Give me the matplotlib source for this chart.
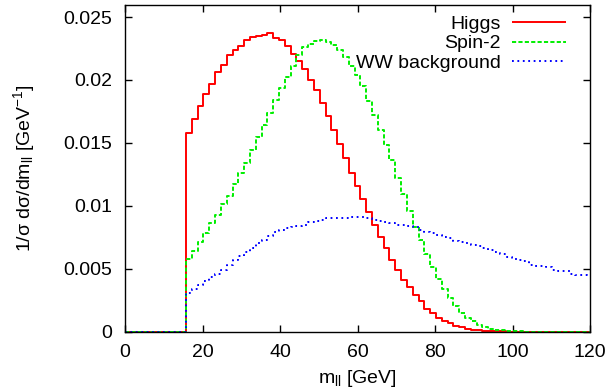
import numpy as np
import matplotlib
matplotlib.use("Agg")
import matplotlib.pyplot as plt


# bin width of the histograms (GeV), points are bin centres like gnuplot "histeps"
binWidth = 1.5
firstFilledBin = 16.5

# normalised distributions, one value per bin from 16.5 to 120 GeV
higgs = [0.0158, 0.0169, 0.0179, 0.0189, 0.0197, 0.0206, 0.0212, 0.0220, 0.0224, 0.0227,
         0.0232, 0.0234, 0.0235, 0.0236, 0.0237, 0.0233, 0.0232, 0.0227, 0.0221, 0.0215,
         0.0209, 0.0200, 0.0192, 0.0182, 0.0171, 0.0160, 0.0149, 0.0138, 0.0126, 0.0116,
         0.0105, 0.0095, 0.0085, 0.0075, 0.0066, 0.0057, 0.0049, 0.0041, 0.0035, 0.0029,
         0.0024, 0.0018, 0.00145, 0.0011, 0.00086, 0.00065, 0.00046, 0.00033, 0.00022, 0.00015,
         0.0001, 0.00006, 0.00004, 0.00002, 0.00001, 0, 0, 0, 0, 0,
         0, 0, 0, 0, 0, 0, 0, 0, 0, 0]

spin2 = [0.0058, 0.0064, 0.0071, 0.0078, 0.0086, 0.0093, 0.0101, 0.0108, 0.0117, 0.0126,
         0.0134, 0.0144, 0.0155, 0.0164, 0.0174, 0.0184, 0.0194, 0.0202, 0.0211, 0.0220,
         0.0226, 0.0229, 0.0231, 0.0232, 0.0230, 0.0228, 0.0224, 0.0218, 0.0211, 0.0204,
         0.0195, 0.0183, 0.0172, 0.0160, 0.0148, 0.0136, 0.0122, 0.0109, 0.0096, 0.0083,
         0.0073, 0.0062, 0.0051, 0.0042, 0.0034, 0.0027, 0.0020, 0.0015, 0.0011, 0.0008,
         0.0005, 0.00033, 0.00022, 0.00015, 0.0001, 0.00006, 0.00003, 0.00002, 0, 0,
         0, 0, 0, 0, 0, 0, 0, 0, 0, 0]

wwBackground = [0.0031, 0.0034, 0.0037, 0.0040, 0.0043, 0.0046, 0.0049, 0.0053, 0.0057, 0.0060,
                0.0063, 0.0066, 0.0070, 0.0073, 0.0076, 0.0079, 0.0081, 0.0082, 0.0083, 0.0084,
                0.0085, 0.0087, 0.0088, 0.0089, 0.0090, 0.0090, 0.0090, 0.0090, 0.0091, 0.0091,
                0.0091, 0.0090, 0.0089, 0.0088, 0.0087, 0.0086, 0.0085, 0.0085, 0.0084, 0.0083,
                0.0081, 0.0079, 0.0078, 0.0077, 0.0075, 0.0074, 0.0072, 0.0071, 0.0070, 0.0069,
                0.0068, 0.0066, 0.0065, 0.0063, 0.0062, 0.0059, 0.0058, 0.0057, 0.0056, 0.0053,
                0.0052, 0.0052, 0.0051, 0.0049, 0.0048, 0.0048, 0.0046, 0.0045, 0.0045, 0.0044]

labels = ["Higgs", "Spin-2", "WW background"]
xTicks = [0, 20, 40, 60, 80, 100, 120]
yTicks = [0, 0.005, 0.01, 0.015, 0.02, 0.025]
yTickLabels = ["0", "0.005", "0.01", "0.015", "0.02", "0.025"]


def padWithZeros(values):
    # bins below the cut are empty, so the series start with zeros at 0 GeV
    nEmpty = int(round(firstFilledBin / binWidth))
    return np.concatenate([np.zeros(nEmpty), np.array(values)])


def main():
    plt.rcParams["font.family"] = ["Liberation Sans", "DejaVu Sans"]
    plt.rcParams["mathtext.fontset"] = "custom"
    plt.rcParams["mathtext.rm"] = "Liberation Sans"
    plt.rcParams["mathtext.it"] = "Liberation Sans:italic"
    plt.rcParams["lines.scale_dashes"] = False

    fig = plt.figure(figsize=(6.08, 3.89), dpi=100)
    ax = fig.add_axes([0.2056, 0.1478, 0.7648, 0.8406])

    series = [higgs, spin2, wwBackground]
    colours = ["#ff0000", "#00ee00", "#0000ff"]
    styles = [(0, ()), (0, (3, 1.6)), (0, (1.3, 2.6))]

    for values, colour, style, label in zip(series, colours, styles, labels):
        y = padWithZeros(values)
        x = np.arange(len(y)) * binWidth
        ax.step(x, y, where="mid", color=colour, linestyle=style, linewidth=1.4, label=label)

    ax.set_xlim(0, 120)
    ax.set_ylim(0, 0.026)
    ax.set_xticks(xTicks)
    ax.set_yticks(yTicks)
    ax.set_yticklabels(yTickLabels)

    ax.tick_params(direction="in", length=5, width=1, top=True, right=True, labelsize=14, colors="black")
    ax.tick_params(axis="x", pad=9)
    ax.tick_params(axis="y", pad=9)
    for spine in ax.spines.values():
        spine.set_linewidth(1)

    ax.set_xlabel(r"m$_\mathrm{ll}$ [GeV]", fontsize=14, labelpad=5)
    ax.set_ylabel(r"1/σ dσ/dm$_\mathrm{ll}$ [GeV$^\mathrm{-1}$]", fontsize=14, labelpad=19)

    ax.legend(loc="upper right", bbox_to_anchor=(0.962, 0.985), frameon=False, markerfirst=False,
              fontsize=14, handlelength=2.8, handletextpad=0.6, labelspacing=0.1, borderpad=0.3,
              borderaxespad=0)

    fig.savefig("out.png", dpi=100)


if __name__ == "__main__":
    main()
